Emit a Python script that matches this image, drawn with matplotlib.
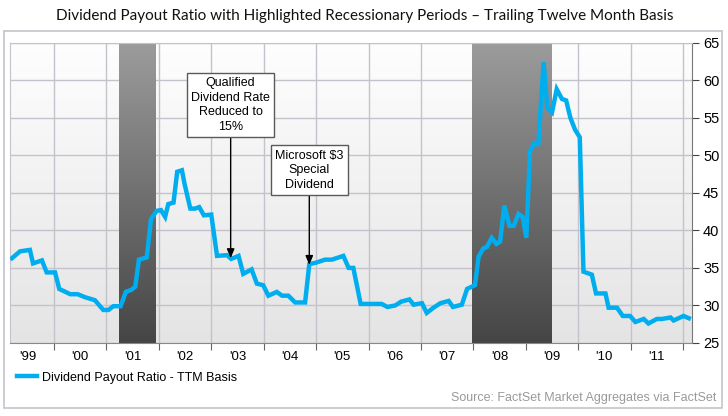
import numpy as np
import matplotlib
matplotlib.use("Agg")
import matplotlib.pyplot as plt
from matplotlib.colors import LinearSegmentedColormap
from matplotlib.patches import Rectangle
from matplotlib.lines import Line2D

# dates as decimal years
dates = [1999.20, 1999.35, 1999.54, 1999.60, 1999.77, 1999.86, 2000.02, 2000.10,
         2000.31, 2000.45, 2000.59, 2000.78, 2000.94, 2001.04, 2001.13, 2001.27,
         2001.37, 2001.48, 2001.55, 2001.62, 2001.77, 2001.85, 2001.96, 2002.04,
         2002.12, 2002.18, 2002.28, 2002.35, 2002.44, 2002.49, 2002.60, 2002.69,
         2002.77, 2002.86, 2003.00, 2003.11, 2003.30, 2003.38, 2003.52, 2003.61,
         2003.77, 2003.87, 2003.99, 2004.09, 2004.25, 2004.35, 2004.47, 2004.60,
         2004.79, 2004.87, 2005.00, 2005.17, 2005.30, 2005.52, 2005.62, 2005.71,
         2005.85, 2006.25, 2006.36, 2006.51, 2006.62, 2006.78, 2006.86, 2007.02,
         2007.11, 2007.24, 2007.37, 2007.53, 2007.61, 2007.78, 2007.88, 2008.03,
         2008.10, 2008.19, 2008.26, 2008.35, 2008.44, 2008.51, 2008.59, 2008.69,
         2008.77, 2008.86, 2008.94, 2009.01, 2009.08, 2009.15, 2009.24, 2009.34,
         2009.41, 2009.50, 2009.59, 2009.69, 2009.77, 2009.85, 2009.94, 2010.03,
         2010.10, 2010.26, 2010.34, 2010.52, 2010.58, 2010.74, 2010.85, 2010.99,
         2011.09, 2011.25, 2011.34, 2011.50, 2011.60, 2011.76, 2011.82, 2012.01,
         2012.11]
payout = [36.3, 37.2, 37.4, 35.6, 36.0, 34.4, 34.4, 32.2,
          31.5, 31.5, 31.1, 30.7, 29.4, 29.4, 29.9, 29.9,
          31.8, 32.1, 32.5, 36.1, 36.4, 41.5, 42.6, 42.7,
          41.8, 43.5, 43.7, 47.8, 48.0, 46.2, 42.9, 42.9,
          43.1, 42.0, 42.1, 36.6, 36.7, 36.2, 36.6, 34.2,
          34.8, 32.9, 32.7, 31.3, 31.8, 31.3, 31.3, 30.4,
          30.4, 35.5, 35.7, 36.1, 36.1, 36.6, 35.0, 35.0,
          30.2, 30.2, 29.8, 30.0, 30.5, 30.8, 30.1, 30.3,
          29.0, 29.7, 30.3, 30.6, 29.8, 30.1, 32.2, 32.7,
          36.5, 37.6, 37.8, 39.0, 38.2, 38.5, 43.3, 40.6,
          40.6, 42.2, 41.8, 39.0, 50.5, 51.5, 51.5, 62.4,
          56.3, 55.7, 58.8, 57.5, 57.3, 55.0, 53.4, 52.4,
          34.5, 34.1, 31.6, 31.6, 29.7, 29.7, 28.6, 28.6,
          27.8, 28.2, 27.6, 28.2, 28.2, 28.4, 28.0, 28.6,
          28.3]

recessions = [(2001.24, 2001.93), (2007.98, 2009.50)]
years = list(range(1999, 2012))
year_labels = ["'99", "'00", "'01", "'02", "'03", "'04", "'05", "'06",
               "'07", "'08", "'09", "'10", "'11"]

notes = ["Qualified\nDividend Rate\nReduced to\n15%", "Microsoft $3\nSpecial\nDividend"]
note_at = [(2003.37, 36.3), (2004.87, 35.4)]
note_text_at = [(2003.37, 56.7), (2004.87, 48.0)]

line_color = "#00aeef"
grid_color = "#c3c3cc"
plt.rcParams["font.family"] = ["Liberation Sans", "DejaVu Sans"]

fig = plt.figure(figsize=(7.28, 4.16), dpi=100)
ax = fig.add_axes([0.0137, 0.1755, 0.9368, 0.722])

# outer frame
fig.patches.append(Rectangle((0.0055, 0.019), 0.986, 0.906, transform=fig.transFigure,
                             fill=False, ec=grid_color, lw=1.2))

x0, x1 = 1999.16, 2012.17
y0, y1 = 25, 65

# background gradient
bg = LinearSegmentedColormap.from_list("bg", ["#e4e4e4", "#fefefe"])
ax.imshow(np.linspace(0, 1, 256).reshape(-1, 1), extent=[0, 1, 0, 1], origin="lower",
          transform=ax.transAxes, aspect="auto", cmap=bg, zorder=0)

# recession bars
rc = LinearSegmentedColormap.from_list("rc", ["#454545", "#9c9c9c"])
for a, b in recessions:
    ax.imshow(np.linspace(0, 1, 256).reshape(-1, 1), extent=[a, b, y0, y1], origin="lower",
              aspect="auto", cmap=rc, zorder=1)

ax.plot(dates, payout, color=line_color, lw=3.2, solid_joinstyle="miter", zorder=3)

for txt, xy, xyt in zip(notes, note_at, note_text_at):
    ax.annotate(txt, xy=xy, xytext=xyt, ha="center", va="center", fontsize=9,
                linespacing=1.3, zorder=5,
                bbox=dict(boxstyle="square,pad=0.35", fc="white", ec="#5a5a5a", lw=1),
                arrowprops=dict(arrowstyle="-|>,head_length=0.6,head_width=0.25",
                                color="black", lw=1, shrinkA=0, shrinkB=0))

ax.set_xlim(x0, x1)
ax.set_ylim(y0, y1)

ax.set_xticks(years[1:] + [2012])
ax.set_xticklabels([])
ax.set_xticks([y + 0.5 for y in years], minor=True)
ax.set_xticklabels(year_labels, minor=True)
ax.tick_params(axis="x", which="major", length=5, color="#666666", direction="out")
ax.tick_params(axis="x", which="minor", length=0, labelsize=9.5, pad=6)

ax.yaxis.tick_right()
ax.set_yticks(range(25, 66, 5))
ax.tick_params(axis="y", length=5, color="#444444", labelsize=10.5, pad=3)

ax.grid(True, which="major", color=grid_color, lw=1)
ax.set_axisbelow(True)

for s in ["left", "top"]:
    ax.spines[s].set_color(grid_color)
ax.spines["bottom"].set_color("#888888")
ax.spines["right"].set_color("#777777")

fig.text(0.501, 0.962, "Dividend Payout Ratio with Highlighted Recessionary Periods \u2013 "
         "Trailing Twelve Month Basis", ha="center", va="center", fontsize=11,
         family=["Lato", "DejaVu Sans"], color="#111111")

handle = Line2D([], [], color=line_color, lw=3.2)
fig.legend([handle], ["Dividend Payout Ratio - TTM Basis"], loc="center left",
           bbox_to_anchor=(0.008, 0.092), frameon=False, fontsize=9,
           handlelength=1.6, handletextpad=0.4)

fig.text(0.984, 0.043, "Source: FactSet Market Aggregates via FactSet", ha="right",
         va="center", fontsize=9, color="#9a9a9a")

plt.savefig("out.png", dpi=100)
plt.close()
